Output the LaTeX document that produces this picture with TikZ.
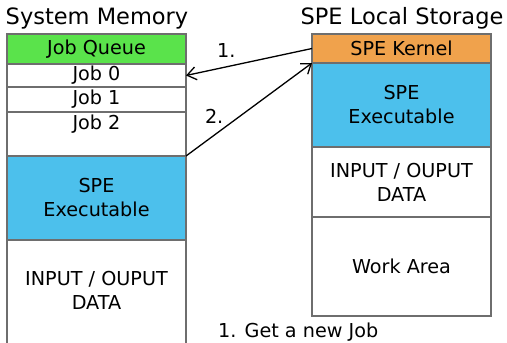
\documentclass[tikz,border=0pt]{standalone}
\usepackage{fontspec}
\setmainfont{DejaVu Sans}
\usetikzlibrary{arrows.meta}
\definecolor{MyGreen}{HTML}{5AE34B}
\definecolor{MyOrange}{HTML}{F0A24C}
\definecolor{MyBlue}{HTML}{4CC0EC}
\definecolor{MyLine}{HTML}{6E6E6E}
\tikzset{
	blk/.style={draw=MyLine, line width=1.1pt, minimum width=179pt, inner sep=0pt, outer sep=0pt, align=center, font=\fontsize{19.2}{24}\selectfont},
	ttl/.style={font=\fontsize{22.5}{26}\selectfont, inner sep=0pt},
	lbl/.style={font=\fontsize{19.2}{24}\selectfont},
	arr/.style={-{Straight Barb[length=9pt,width=13pt,line width=1.3pt]}, line width=1.3pt}
}

\begin{document}
\begin{tikzpicture}[x=1pt, y=-1pt]
		\useasboundingbox (0,0) rectangle (507,343);
		
		% system memory
		\node[ttl] (smtitle) at (97,18) {System Memory};
		\node[blk, fill=MyGreen, minimum height=30pt] (jobq) at (96.5,49) {Job Queue};
		\node[blk, minimum height=23pt] (job0) at (96.5,75.5) {Job 0};
		\node[blk, minimum height=25pt] (job1) at (96.5,99.5) {Job 1};
		\node[blk, minimum height=44pt] (job2) at (96.5,134) {};
		\node[blk, draw=none] (job2txt) at (96.5,124) {Job 2};
		\node[blk, fill=MyBlue, minimum height=84pt] (exec) at (96.5,198) {SPE\\Executable};
		\node[blk, minimum height=120pt] (io) at (96.5,300) {};
		\node[blk, draw=none] (iotxt) at (96.5,290) {INPUT / OUPUT\\DATA};
		
		% spe local storage
		\node[ttl] (lstitle) at (402,18) {SPE Local Storage};
		\node[blk, fill=MyOrange, minimum height=29pt] (kernel) at (401.5,48.5) {SPE Kernel};
		\node[blk, fill=MyBlue, minimum height=84pt] (rexec) at (401.5,105) {SPE\\Executable};
		\node[blk, minimum height=70pt] (rio) at (401.5,182) {INPUT / OUPUT\\DATA};
		\node[blk, minimum height=99pt] (work) at (401.5,266.5) {Work Area};
		
		\draw[arr] (kernel.west) -- (job0.east) node [lbl, pos=0.68, above=5pt] {1.};
		\draw[arr] (exec.north east) -- (kernel.south west) node [lbl, pos=0.32, above left=-1pt] {2.};
		
		\node[lbl, anchor=north west, inner sep=0pt] (step1) at (218,323) {1. Get a new Job};
		
	\end{tikzpicture}
\end{document}
